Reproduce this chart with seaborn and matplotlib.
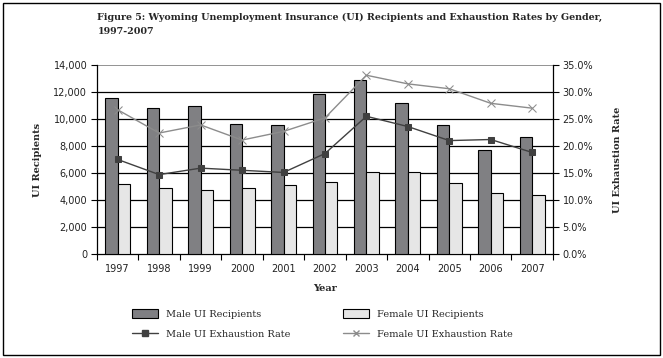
import matplotlib
matplotlib.use("Agg")
import matplotlib.pyplot as plt
import seaborn as sns
import pandas as pd
from matplotlib.patches import Patch, Rectangle
from matplotlib.lines import Line2D
from matplotlib.ticker import FuncFormatter, MultipleLocator

years = ["1997", "1998", "1999", "2000", "2001", "2002", "2003", "2004", "2005", "2006", "2007"]
male_recipients = [11570, 10830, 10930, 9640, 9570, 11870, 12910, 11200, 9570, 7710, 8670]
female_recipients = [5200, 4880, 4730, 4880, 5100, 5330, 6070, 6070, 5250, 4510, 4360]
male_rate = [17.5, 14.7, 15.9, 15.5, 15.1, 18.6, 25.5, 23.6, 21.0, 21.2, 18.8]
female_rate = [26.7, 22.4, 23.9, 21.1, 22.7, 25.2, 33.1, 31.5, 30.6, 27.9, 27.0]

title = "Figure 5: Wyoming Unemployment Insurance (UI) Recipients and Exhaustion Rates by Gender,\n1997-2007"
series_names = ["Male UI Recipients", "Female UI Recipients", "Male UI Exhaustion Rate", "Female UI Exhaustion Rate"]

sns.set_style("white")
serif = ["DejaVu Serif"]
sans = ["DejaVu Sans"]

bars = pd.DataFrame({
    "Year": years * 2,
    "Recipients": male_recipients + female_recipients,
    "Series": [series_names[0]] * len(years) + [series_names[1]] * len(years),
})
rates = pd.DataFrame({"Year": years, "Male": male_rate, "Female": female_rate})

male_bar_c = "#7f7f83"
female_bar_c = "#e6e6e6"
male_line_c = "#404040"
female_line_c = "#8c8c8c"

fig = plt.figure(figsize=(6.63, 3.58), dpi=100)
ax = fig.add_axes([0.1463, 0.2905, 0.6877, 0.528])

sns.barplot(data=bars, x="Year", y="Recipients", hue="Series",
            palette=[male_bar_c, female_bar_c], width=0.6, gap=0,
            edgecolor="black", linewidth=0.8, ax=ax, legend=False, zorder=3)
ax.set_ylim(0, 14000)
ax.set_xlim(-0.5, len(years) - 0.5)
ax.yaxis.set_major_locator(MultipleLocator(2000))
ax.yaxis.set_major_formatter(FuncFormatter(lambda v, p: f"{int(v):,}"))
for yv in range(2000, 14000, 2000):
    ax.axhline(yv, color="black", lw=0.9, zorder=1)
ax.axhline(14000, color="#808080", lw=1.2, zorder=1)

ax2 = ax.twinx()
sns.pointplot(data=rates, x="Year", y="Male", color=male_line_c, markers="s",
              markersize=5, linewidth=1.0, ax=ax2, zorder=4)
sns.pointplot(data=rates, x="Year", y="Female", color=female_line_c, markers="x",
              markersize=6, linewidth=1.0, ax=ax2, zorder=4)
for coll in ax2.collections:
    coll.set_zorder(5)
ax2.set_ylim(0, 35)
ax2.set_xlim(-0.5, len(years) - 0.5)
ax2.yaxis.set_major_locator(MultipleLocator(5))
ax2.yaxis.set_major_formatter(FuncFormatter(lambda v, p: f"{v:.1f}%"))

for a in (ax, ax2):
    for s in a.spines.values():
        s.set_visible(False)
ax.spines["left"].set_visible(True)
ax.spines["left"].set_color("black")
ax.spines["left"].set_linewidth(0.9)
ax.spines["bottom"].set_visible(True)
ax.spines["bottom"].set_color("black")
ax.spines["bottom"].set_linewidth(0.9)
ax2.spines["right"].set_visible(True)
ax2.spines["right"].set_color("black")
ax2.spines["right"].set_linewidth(0.9)

ax.tick_params(axis="y", which="major", direction="out", length=4, width=0.8, color="black",
               left=True, labelsize=7, pad=3)
ax2.tick_params(axis="y", which="major", direction="out", length=4, width=0.8, color="black",
                right=True, labelsize=7, pad=3)
ax.set_xticks(range(len(years)))
ax.set_xticklabels(years)
ax.tick_params(axis="x", which="major", length=0, labelsize=7, pad=7.3)
ax.set_xticks([i - 0.5 for i in range(len(years) + 1)], minor=True)
ax.tick_params(axis="x", which="minor", direction="out", length=4, width=0.8, color="black", bottom=True)
for lab in ax.get_yticklabels() + ax.get_xticklabels() + ax2.get_yticklabels():
    lab.set_fontfamily(sans)
    lab.set_color("#222222")

ax.set_xlabel("Year", fontfamily=serif, fontweight="bold", fontsize=7, labelpad=7)
ax.set_ylabel("UI Recipients", fontfamily=serif, fontweight="bold", fontsize=7, labelpad=8)
ax2.set_ylabel("UI Exhaustion Rate", fontfamily=serif, fontweight="bold", fontsize=7,
               rotation=90, labelpad=14)

fig.text(0.147, 0.965, title, fontfamily=serif, fontweight="bold", fontsize=6.8,
         va="top", ha="left", linespacing=1.75)

handles = [
    Patch(facecolor=male_bar_c, edgecolor="black", linewidth=0.8),
    Line2D([], [], color=male_line_c, marker="s", markersize=4, lw=1.0),
    Patch(facecolor=female_bar_c, edgecolor="black", linewidth=0.8),
    Line2D([], [], color=female_line_c, marker="x", markersize=5, lw=1.0),
]
labels = [series_names[0], series_names[2], series_names[1], series_names[3]]
fig.legend(handles, labels, ncol=2, loc="upper left", bbox_to_anchor=(0.199, 0.1355),
           frameon=False, prop={"family": serif, "size": 7}, handlelength=2.7,
           handleheight=0.9, columnspacing=5.4, labelspacing=1.1, handletextpad=0.8,
           borderaxespad=0, borderpad=0)

fig.patches.append(Rectangle((0.004, 0.008), 0.991, 0.984, transform=fig.transFigure,
                             fill=False, edgecolor="black", linewidth=1.0))

fig.savefig("out.png", dpi=100)
